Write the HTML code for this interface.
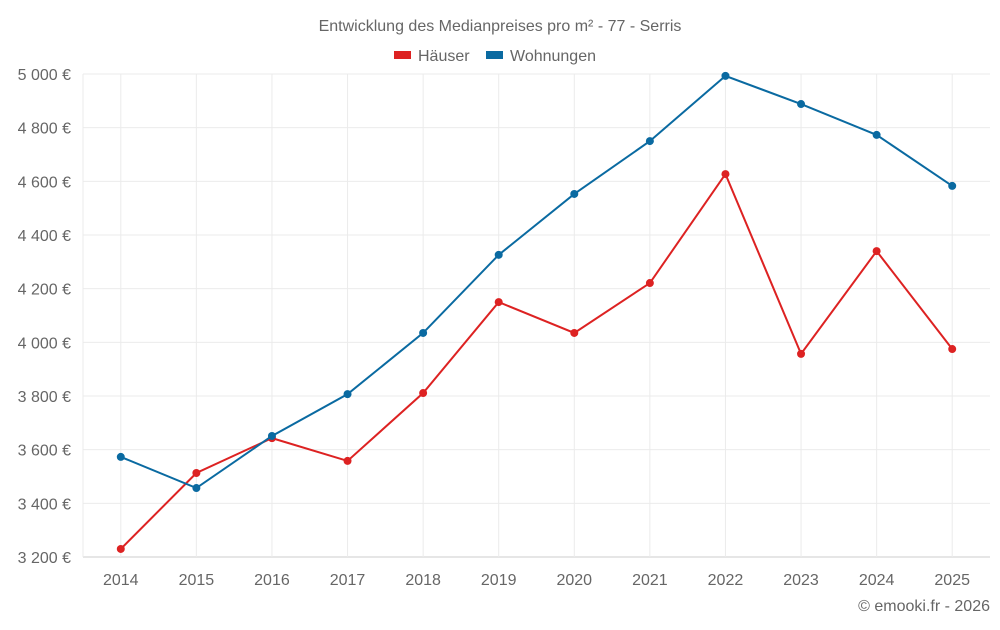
<!DOCTYPE html>
<html><head><meta charset="utf-8"><style>
body{margin:0;background:#fff;font-family:"Liberation Sans",sans-serif;}
svg text{font-family:"Liberation Sans",sans-serif;fill:#666;}
</style></head><body>
<svg id="chart" width="1000" height="625" xmlns="http://www.w3.org/2000/svg">
<text x="500" y="31" text-anchor="middle" font-size="16">Entwicklung des Medianpreises pro m² - 77 - Serris</text>
<g>
<g><rect x="394" y="51" width="17" height="8" fill="#dd2222"/><text x="418" y="61" font-size="16">Häuser</text></g>
<g><rect x="486" y="51" width="17" height="8" fill="#0a6aa1"/><text x="510" y="61" font-size="16">Wohnungen</text></g>
</g>
<g id="grid"></g><g id="axes"></g><g id="series"></g>
<text x="990" y="611" text-anchor="end" font-size="16">© emooki.fr - 2026</text>
</svg>
<script>
const categories=["2014","2015","2016","2017","2018","2019","2020","2021","2022","2023","2024","2025"];
const haeuser=[3230,3513,3643,3558,3811,4150,4035,4221,4627,3957,4340,3975];
const wohnungen=[3573,3457,3651,3807,4035,4326,4553,4750,4993,4888,4773,4583];
const yTicks=[3200,3400,3600,3800,4000,4200,4400,4600,4800,5000];
const yTickLabels=["3 200 €","3 400 €","3 600 €","3 800 €","4 000 €","4 200 €","4 400 €","4 600 €","4 800 €","5 000 €"];
const L=83,R=990,T=74,B=557,yMin=3200,yMax=5000;
const band=(R-L)/categories.length;
const x=i=>L+band*(i+0.5);
const y=v=>B-(v-yMin)/(yMax-yMin)*(B-T);
const NS="http://www.w3.org/2000/svg";
function mk(tag,attrs,parent){const e=document.createElementNS(NS,tag);for(const k in attrs)e.setAttribute(k,attrs[k]);parent.appendChild(e);return e;}
const grid=document.getElementById('grid'),axes=document.getElementById('axes'),ser=document.getElementById('series');
yTicks.forEach((t,i)=>{
 const g=mk('line',{x1:L,x2:R,y1:y(t),y2:y(t),stroke:i===0?'#ccc':'#ebebeb','stroke-width':1},grid);
 
 
 const tx=mk('text',{x:71,y:y(t)+6,'text-anchor':'end','font-size':16},axes);
 tx.textContent=yTickLabels[i];
 
 
});
const lb=mk('line',{x1:L,x2:L,y1:T,y2:B,stroke:'#ebebeb'},grid);


categories.forEach((c,i)=>{
 const g=mk('line',{x1:x(i),x2:x(i),y1:T,y2:B,stroke:'#ebebeb'},grid);
 
 
 const tx=mk('text',{x:x(i),y:585,'text-anchor':'middle','font-size':16},axes);
 tx.textContent=c;
 
 
});
function drawSeries(vals,color,name){
 const p=mk('polyline',{points:vals.map((v,i)=>x(i)+','+y(v)).join(' '),fill:'none',stroke:color,'stroke-width':2},ser);
 
 
 vals.forEach((v,i)=>{
  const c=mk('circle',{cx:x(i),cy:y(v),r:4,fill:color},ser);
  
  
 });
}
drawSeries(haeuser,'#dd2222','haeuser');
drawSeries(wohnungen,'#0a6aa1','wohnungen');
</script>
</body></html>
